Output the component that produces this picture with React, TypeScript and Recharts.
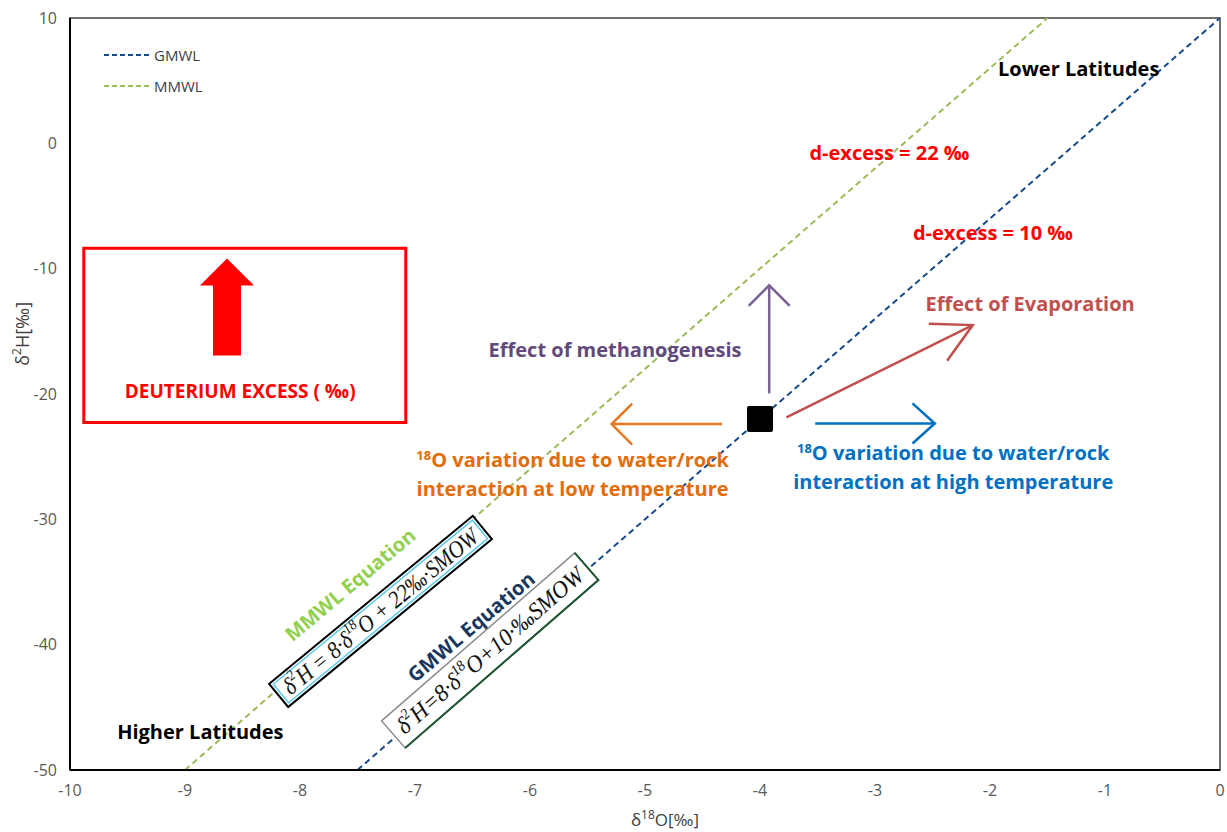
import {
  ComposedChart,
  Line,
  Scatter,
  XAxis,
  YAxis,
  Legend,
  ReferenceArea,
  ReferenceLine,
  ReferenceDot,
} from "recharts";

const SANS = "'Open Sans', 'Noto Sans', sans-serif";
const SERIF = "'Liberation Serif', 'DejaVu Serif', serif";

const xTicks = [-10, -9, -8, -7, -6, -5, -4, -3, -2, -1, 0];
const yTicks = [-50, -40, -30, -20, -10, 0, 10];
const lineNames = ["GMWL", "MMWL"];

// meteoric water lines, δ2H = 8·δ18O + d
const gmwlPoints = [
  { x: -7.5, y: -50 },
  { x: 0, y: 10 },
];
const mmwlPoints = [
  { x: -9, y: -50 },
  { x: -1.5, y: 10 },
];

// reference sample
const samplePoint = [{ x: -4, y: -22 }];

// process arrows (from -> to)
const lowTempShift = [
  { x: -4.33, y: -22.4 },
  { x: -5.29, y: -22.4 },
];
const highTempShift = [
  { x: -3.52, y: -22.35 },
  { x: -2.48, y: -22.35 },
];
const methanogenesisShift = [
  { x: -3.92, y: -19.95 },
  { x: -3.92, y: -11.33 },
];
const evaporationShift = [
  { x: -3.77, y: -21.87 },
  { x: -2.15, y: -14.5 },
];

// open-headed arrow drawn along a reference segment
const arrowShape =
  (color: string, head: number, spread: number) => (props: any) => {
    const { x1, y1, x2, y2 } = props;
    const a = Math.atan2(y2 - y1, x2 - x1);
    const r = (spread * Math.PI) / 180;
    const ax = x2 - head * Math.cos(a - r);
    const ay = y2 - head * Math.sin(a - r);
    const bx = x2 - head * Math.cos(a + r);
    const by = y2 - head * Math.sin(a + r);
    return (
      <g>
        <line x1={x1} y1={y1} x2={x2} y2={y2} stroke={color} strokeWidth={2.5} />
        <polyline
          points={`${ax},${ay} ${x2},${y2} ${bx},${by}`}
          fill="none"
          stroke={color}
          strokeWidth={2.5}
        />
      </g>
    );
  };

// text or drawing anchored at a data point
const note = (key: string, x: number, y: number, node: React.ReactNode) => (
  <ReferenceDot
    key={key}
    x={x}
    y={y}
    r={0}
    shape={(p: any) => <g transform={`translate(${p.cx},${p.cy})`}>{node}</g>}
  />
);

const boldText = (
  text: string,
  color: string,
  size = 20,
  anchor: "start" | "middle" | "end" = "start"
) => (
  <text
    fill={color}
    fontFamily={SANS}
    fontWeight="bold"
    fontSize={size}
    textAnchor={anchor}
    dominantBaseline="central"
  >
    {text}
  </text>
);

const isotopeText = (lines: [string, string], color: string) => (
  <text
    fill={color}
    fontFamily={SANS}
    fontWeight="bold"
    fontSize={20}
    textAnchor="middle"
  >
    <tspan x={0} dy={7}>
      <tspan fontSize={13} dy={-7}>
        18
      </tspan>
      <tspan dy={7}>{lines[0]}</tspan>
    </tspan>
    <tspan x={0} dy={29}>
      {lines[1]}
    </tspan>
  </text>
);

// δ2H = 8·δ18O + d, set in italic serif and squeezed to the box width
const equation = (mid: string, tail: string, width: number) => (
  <text
    x={-width / 2}
    dominantBaseline="central"
    fontFamily={SERIF}
    fontStyle="italic"
    fontSize={24}
    fill="#111"
    textLength={width}
    lengthAdjust="spacingAndGlyphs"
  >
    δ<tspan fontSize={15} dy={-8}>2</tspan>
    <tspan dy={8}>{mid}</tspan>
    <tspan fontSize={15} dy={-8}>18</tspan>
    <tspan dy={8}>{tail}</tspan>
  </text>
);

const LegendBox = ({ payload }: any) => (
  <div style={{ fontFamily: SANS, fontSize: 15, color: "#404040" }}>
    {(payload || [])
      .filter((entry: any) => lineNames.includes(entry.value))
      .map((entry: any) => (
        <div
          key={entry.value}
          style={{ display: "flex", alignItems: "center", height: 31 }}
        >
          <svg width={50} height={6}>
            <line
              x1={0}
              y1={3}
              x2={45}
              y2={3}
              stroke={entry.color}
              strokeWidth={2}
              strokeDasharray="5 3"
            />
          </svg>
          <span>{entry.value}</span>
        </div>
      ))}
  </div>
);

const YTitle = ({ viewBox }: any) => (
  <text
    transform={`translate(${viewBox.x + 22},${viewBox.y + viewBox.height * 0.42}) rotate(-90)`}
    textAnchor="middle"
    dominantBaseline="central"
    fontFamily={SANS}
    fontSize={18}
    fill="#404040"
  >
    δ<tspan fontSize={12} dy={-6}>2</tspan>
    <tspan dy={6}>H[‰]</tspan>
  </text>
);

const XTitle = ({ viewBox }: any) => (
  <text
    x={viewBox.x + viewBox.width / 2 + 20}
    y={viewBox.y + 49}
    textAnchor="middle"
    dominantBaseline="central"
    fontFamily={SANS}
    fontSize={17}
    fill="#404040"
  >
    δ<tspan fontSize={12} dy={-5}>18</tspan>
    <tspan dy={5}>O[‰]</tspan>
  </text>
);

const SampleSquare = (p: any) => (
  <rect x={p.cx - 13} y={p.cy - 13} width={26} height={26} rx={2} fill="#000" />
);

export default function App() {
  const tick = { fontFamily: SANS, fontSize: 16, fill: "#595959" };
  return (
    <div style={{ position: "absolute", left: 0, top: 0, background: "#fff" }}>
      <ComposedChart
        width={1227}
        height={832}
        margin={{ top: 18, right: 7, bottom: 0, left: 0 }}
      >
        <XAxis
          dataKey="x"
          type="number"
          domain={[-10, 0]}
          ticks={xTicks}
          allowDataOverflow
          height={62}
          tickLine={false}
          tickMargin={9}
          tick={tick}
          axisLine={{ stroke: "#000", strokeWidth: 2 }}
          label={<XTitle />}
        />
        <YAxis
          dataKey="y"
          type="number"
          domain={[-50, 10]}
          ticks={yTicks}
          allowDataOverflow
          width={70}
          tickLine={false}
          tickMargin={7}
          tick={tick}
          axisLine={{ stroke: "#000", strokeWidth: 2 }}
          label={<YTitle />}
        />
        <ReferenceArea
          x1={-10}
          x2={0}
          y1={-50}
          y2={10}
          fill="none"
          stroke="#404040"
          strokeWidth={1.5}
        />
        <Legend
          layout="vertical"
          align="center"
          verticalAlign="middle"
          content={<LegendBox />}
          wrapperStyle={{ left: 104, top: 39, width: 150 }}
        />
        <Line
          data={gmwlPoints}
          dataKey="y"
          name="GMWL"
          stroke="#174A8B"
          strokeWidth={2}
          strokeDasharray="6 4"
          dot={false}
          isAnimationActive={false}
        />
        <Line
          data={mmwlPoints}
          dataKey="y"
          name="MMWL"
          stroke="#9BBB59"
          strokeWidth={2}
          strokeDasharray="6 4"
          dot={false}
          isAnimationActive={false}
        />

        <ReferenceLine
          segment={lowTempShift}
          shape={arrowShape("#E87722", 29, 45)}
        />
        <ReferenceLine
          segment={highTempShift}
          shape={arrowShape("#0070C0", 30, 42)}
        />
        <ReferenceLine
          segment={methanogenesisShift}
          shape={arrowShape("#7A6196", 29, 45)}
        />
        <ReferenceLine
          segment={evaporationShift}
          shape={arrowShape("#C0504D", 44, 28)}
        />

        <Scatter
          data={samplePoint}
          dataKey="y"
          name="sample"
          legendType="none"
          shape={SampleSquare}
          isAnimationActive={false}
        />

        {/* deuterium excess key */}
        <ReferenceArea
          x1={-9.88}
          x2={-7.08}
          y1={-22.27}
          y2={-8.38}
          fill="none"
          stroke="#FF0000"
          strokeWidth={3}
        />
        {note(
          "dx-arrow",
          -8.635,
          -9.18,
          <polygon
            points="0,0 27,27 14,27 14,97 -14,97 -14,27 -27,27"
            fill="#FF0000"
          />
        )}
        {note("dx-label", -8.52, -19.8, boldText("DEUTERIUM  EXCESS ( ‰)", "#FF0000", 19, "middle"))}

        {note("lower", -1.93, 6, boldText("Lower Latitudes", "#000"))}
        {note("higher", -9.59, -46.93, boldText("Higher Latitudes", "#000"))}
        {note("d22", -3.57, -0.72, boldText("d-excess = 22 ‰", "#FF0000"))}
        {note("d10", -2.67, -7.1, boldText("d-excess = 10 ‰", "#FF0000"))}
        {note("evap", -2.56, -12.77, boldText("Effect of Evaporation", "#C0504D"))}
        {note("meth", -6.36, -16.44, boldText("Effect of methanogenesis", "#604A7B"))}
        {note(
          "low",
          -5.63,
          -25.86,
          isotopeText(
            ["O variation due to water/rock", "interaction at low temperature"],
            "#E46C0A"
          )
        )}
        {note(
          "high",
          -2.32,
          -25.3,
          isotopeText(
            ["O variation due to water/rock", "interaction at high temperature"],
            "#0070C0"
          )
        )}

        {/* equation labels laid along the lines */}
        {note(
          "mmwl-title",
          -7.565,
          -35.2,
          <g transform="rotate(-40)">{boldText("MMWL Equation", "#92D050", 20, "middle")}</g>
        )}
        {note(
          "mmwl-eq",
          -7.3,
          -37.35,
          <g transform="rotate(-39.5)">
            <rect x={-132} y={-15} width={264} height={30} fill="#fff" stroke="#000" strokeWidth={2} />
            <rect x={-129} y={-12} width={258} height={24} fill="none" stroke="#5BC8E8" strokeWidth={1.5} />
            {equation("H = 8·δ", "O + 22‰·SMOW", 246)}
          </g>
        )}
        {note(
          "gmwl-title",
          -6.513,
          -38.55,
          <g transform="rotate(-40)">{boldText("GMWL Equation", "#17375E", 20, "middle")}</g>
        )}
        {note(
          "gmwl-eq",
          -6.348,
          -40.46,
          <g transform="rotate(-41)">
            <rect x={-128} y={-18} width={256} height={36} fill="#fff" stroke="#8C8C8C" strokeWidth={1.5} />
            <path d="M128,-18 L128,18 L-128,18" fill="none" stroke="#1E5631" strokeWidth={2} />
            {equation("H=8·δ", "O+10·‰SMOW", 240)}
          </g>
        )}
      </ComposedChart>
    </div>
  );
}
